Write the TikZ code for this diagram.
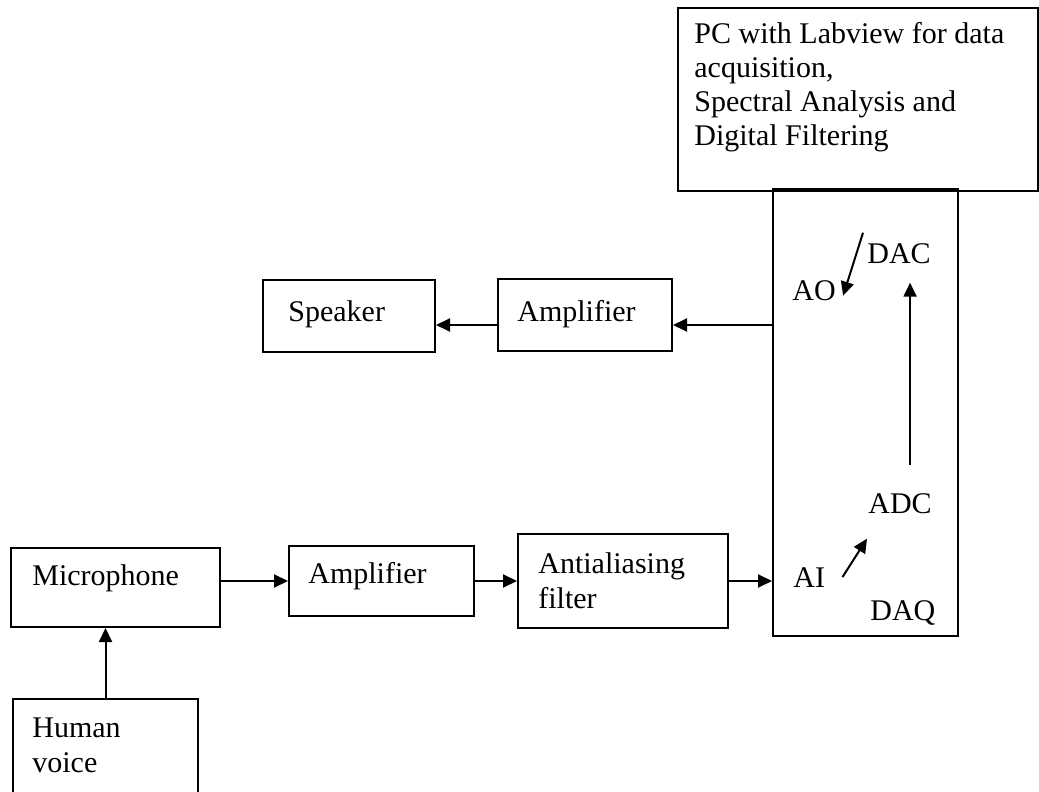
\documentclass[tikz,border=0pt]{standalone}
\usepackage{fontspec}
\setmainfont{Liberation Serif}
\usetikzlibrary{arrows.meta}

\begin{document}
\begin{tikzpicture}[x=0.5pt, y=0.5pt,
    box/.style={draw, line width=1pt, inner sep=0pt, anchor=north west},
    txt/.style={inner sep=0pt, font=\fontsize{15}{17}\selectfont},
    arr/.style={line width=1pt, -{Triangle[length=7pt,width=6.5pt]}}]
  \clip (0,0) rectangle (1039,-792);
  % === Blokker ===
  \node[box, minimum width=180pt, minimum height=91.5pt] (pc) at (677,-7) {};
  \node[box, minimum width=92.5pt, minimum height=223.5pt] (daq) at (772,-188) {};
  \node[box, minimum width=86pt, minimum height=36pt] (spk) at (262,-279) {};
  \node[box, minimum width=87pt, minimum height=36pt] (ampT) at (497,-278) {};
  \node[box, minimum width=104.5pt, minimum height=39.5pt] (mic) at (10,-547) {};
  \node[box, minimum width=92.5pt, minimum height=35pt] (ampB) at (288,-545) {};
  \node[box, minimum width=105pt, minimum height=47pt] (aaf) at (517,-533) {};
  \node[box, minimum width=92.5pt, minimum height=60pt] (hv) at (12,-698) {};
  % === Tekster i blokkene ===
  \node[txt, anchor=north west, align=left] (pcT) at (694,-22)
    {PC with Labview for data\\acquisition,\\Spectral Analysis and\\Digital Filtering};
  \node[txt, anchor=base west] (spkT) at (288,-321) {Speaker};
  \node[txt, anchor=base west] (ampTT) at (517,-321) {Amplifier};
  \node[txt, anchor=base west] (micT) at (32,-585) {Microphone};
  \node[txt, anchor=base west] (ampBT) at (308,-583) {Amplifier};
  \node[txt, anchor=north west, align=left, font=\fontsize{15}{17.5}\selectfont] (aafT) at (538,-552)
    {Antialiasing\\filter};
  \node[txt, anchor=north west, align=left, font=\fontsize{15}{17.5}\selectfont] (hvT) at (32,-717)
    {Human\\voice};
  % === DAQ-kort ===
  \node[txt, anchor=base west] (dac) at (867,-263) {DAC};
  \node[txt, anchor=base west] (ao) at (792,-300) {AO};
  \node[txt, anchor=base west] (adc) at (868,-513) {ADC};
  \node[txt, anchor=base west] (ai) at (793,-587) {AI};
  \node[txt, anchor=base west] (daqT) at (870,-620) {DAQ};
  \draw[arr] ([shift={(-2pt,5pt)}]dac.north west) -- ([shift={(3.5pt,2.5pt)}]ao.south east);
  \draw[arr] ([shift={(5pt,14pt)}]adc.north) -- ([shift={(5.5pt,-9.5pt)}]dac.south);
  \draw[arr] ([xshift=8.5pt]ai.east) -- ([shift={(-0.5pt,-12.5pt)}]adc.south west);
  % === Signalvei inn ===
  \draw[arr] (hv.north) -- (hv.north |- mic.south);
  \draw[arr] (mic.east |- ampB.west) -- (ampB.west);
  \draw[arr] (ampB.east) -- (ampB.east -| aaf.west);
  \draw[arr] (aaf.east) -- (aaf.east -| daq.west);
  % === Signalvei ut ===
  \coordinate (ampTin) at ([yshift=-5pt]ampT.east);
  \coordinate (ampTout) at ([yshift=-5pt]ampT.west);
  \draw[arr] (ampTin -| daq.west) -- (ampTin);
  \draw[arr] (ampTout) -- (ampTout -| spk.east);
\end{tikzpicture}
\end{document}
